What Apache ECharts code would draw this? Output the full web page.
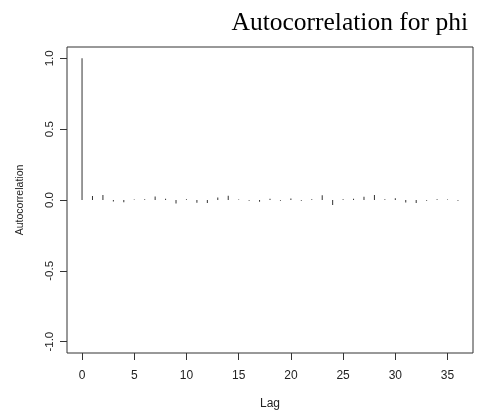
<!DOCTYPE html>
<html>
<head>
<meta charset="utf-8">
<script src="https://cdn.jsdelivr.net/npm/echarts@6/dist/echarts.min.js"></script>
<style>
  html, body { margin: 0; padding: 0; background: #fff; }
  #chart { width: 481px; height: 417px; }
</style>
</head>
<body>
<div id="chart"></div>
<script>
// Sample autocorrelation of the phi chain, lags 0..36
const lags = [0, 1, 2, 3, 4, 5, 6, 7, 8, 9, 10, 11, 12, 13, 14, 15, 16, 17, 18,
              19, 20, 21, 22, 23, 24, 25, 26, 27, 28, 29, 30, 31, 32, 33, 34, 35, 36];
const acf = [1.0, 0.028, 0.035, -0.01, -0.015, 0.003, 0.005, 0.025, 0.008, -0.025,
             0.005, -0.02, -0.022, 0.018, 0.03, 0.003, -0.005, -0.012, 0.008,
             -0.005, 0.01, -0.005, 0.005, 0.033, -0.035, 0.005, 0.008, 0.023,
             0.035, 0.005, 0.012, -0.018, -0.022, -0.005, 0.005, 0.003, -0.005];
const xTicks = [0, 5, 10, 15, 20, 25, 30, 35];
const yTicks = [-1.0, -0.5, 0.0, 0.5, 1.0];

const chart = echarts.init(document.getElementById('chart'), null, { renderer: 'canvas' });

const sans = 'Liberation Sans, Arial, sans-serif';

// Plot box
const box = { left: 67, right: 8, top: 47, bottom: 64 };
// Value ranges, padded 4% like R's default
const xMin = -1.44, xMax = 37.44;
const yMin = -1.08, yMax = 1.08;

// Thin strip grids straddling the bottom and left edges of the box carry the
// visible axes (ticks, labels and titles).
const helper = { type: 'value', min: -1, max: 1, show: false };

chart.setOption({
  animation: false,
  backgroundColor: '#fff',
  title: {
    text: 'Autocorrelation for phi',
    right: 8,
    top: 5,
    textStyle: { fontFamily: 'Liberation Serif, Times New Roman, serif', fontSize: 25.5, fontWeight: 'normal', color: '#000' }
  },
  grid: [
    Object.assign({ show: true, borderColor: '#333', borderWidth: 1, backgroundColor: 'transparent' }, box),
    { left: box.left, right: box.right, bottom: box.bottom - 7, height: 14, show: false },
    { left: box.left - 7, width: 14, top: box.top, bottom: box.bottom, show: false }
  ],
  xAxis: [
    { gridIndex: 0, type: 'value', min: xMin, max: xMax, show: false },
    {
      gridIndex: 1, type: 'value', min: xMin, max: xMax,
      name: 'Lag',
      nameLocation: 'middle',
      nameGap: 38,
      nameTextStyle: { fontFamily: sans, fontSize: 12, color: '#222' },
      axisLine: { show: false },
      splitLine: { show: false },
      axisTick: { show: true, length: 7, lineStyle: { color: '#333', width: 1 }, customValues: xTicks },
      axisLabel: { customValues: xTicks, margin: 10, fontFamily: sans, fontSize: 12, color: '#222' }
    },
    Object.assign({ gridIndex: 2 }, helper)
  ],
  yAxis: [
    { gridIndex: 0, type: 'value', min: yMin, max: yMax, show: false },
    Object.assign({ gridIndex: 1 }, helper),
    {
      gridIndex: 2, type: 'value', min: yMin, max: yMax,
      name: 'Autocorrelation',
      nameLocation: 'middle',
      nameGap: 34,
      nameRotate: 90,
      nameTextStyle: { fontFamily: sans, fontSize: 10.5, color: '#222' },
      axisLine: { show: false },
      splitLine: { show: false },
      axisTick: { show: true, length: 7, lineStyle: { color: '#333', width: 1 }, customValues: yTicks },
      axisLabel: {
        customValues: yTicks, margin: 4, rotate: 90,
        fontFamily: sans, fontSize: 11.5, color: '#222',
        formatter: v => v.toFixed(1)
      }
    }
  ],
  series: [{
    type: 'bar',
    xAxisIndex: 0,
    yAxisIndex: 0,
    data: lags.map((l, i) => [l, acf[i]]),
    barWidth: 1,
    itemStyle: { color: '#333' },
    silent: true
  }]
});
</script>
</body>
</html>
